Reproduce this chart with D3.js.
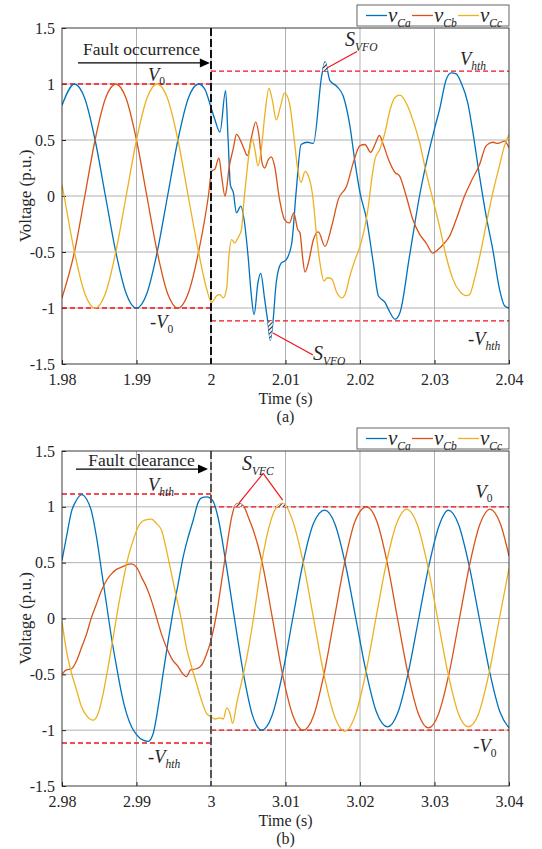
<!DOCTYPE html>
<html>
<head>
<meta charset="utf-8">
<script src="https://cdn.jsdelivr.net/npm/d3@7"></script>
<style>
body { margin: 0; background: #fff; }
text { font-family: "Liberation Serif", "Times New Roman", serif; fill: #262626; }
</style>
</head>
<body>
<svg id="chart" width="542" height="849"></svg>
<script>
// Values: [time (s), voltage (p.u.)]
const xTicksA = [1.98, 1.99, 2, 2.01, 2.02, 2.03, 2.04]
const xTicksB = [2.98, 2.99, 3, 3.01, 3.02, 3.03, 3.04]
const yTicks = [-1.5, -1, -0.5, 0, 0.5, 1, 1.5]
const phases = ['Ca', 'Cb', 'Cc']
const colors = ['#0072BD', '#D95319', '#EDB120']
const V0 = 1, Vhth = 1.115

// (a) fault occurrence
const vCaA = [[1.98,0.81],[1.98167,1],[1.98306,0.87],[1.98444,0.5],[1.98583,0],[1.98722,-0.5],[1.98861,-0.87],[1.99,-1],[1.99139,-0.87],[1.99278,-0.5],[1.99417,0],[1.99556,0.5],[1.99694,0.87],[1.99833,1],[1.9992,0.95],[2.0,0.79],[2.00053,0.68],[2.0012,0.57],[2.00196,0.94],[2.0023,0.5],[2.0026,0.1],[2.003,0.03],[2.00342,-0.15],[2.004,-0.09],[2.00444,-0.21],[2.00498,-0.54],[2.00542,-0.89],[2.00578,-1.06],[2.00631,-0.77],[2.00667,-0.69],[2.0072,-0.92],[2.00764,-1.13],[2.00796,-1.29],[2.00831,-1.13],[2.00876,-0.77],[2.00942,-0.6],[2.01009,-0.57],[2.01084,-0.42],[2.01142,0.03],[2.01209,0.46],[2.01298,0.48],[2.01374,0.47],[2.01485,1.07],[2.0153,1.2],[2.01597,1.03],[2.01687,0.98],[2.01776,0.89],[2.01866,0.62],[2.01933,0.3],[2.02,0.03],[2.02089,-0.21],[2.02179,-0.6],[2.02246,-0.89],[2.02336,-0.95],[2.02403,-1.04],[2.0247,-1.1],[2.02537,-1.04],[2.02664,-0.54],[2.02799,0],[2.02933,0.42],[2.03,0.6],[2.03067,0.77],[2.03157,1.04],[2.03224,1.1],[2.03291,1.09],[2.03358,1.01],[2.03447,0.83],[2.03515,0.57],[2.03604,0.18],[2.03694,-0.18],[2.03783,-0.48],[2.03872,-0.83],[2.0394,-0.98],[2.04,-1.0]]
const vCbA = [[1.98,-0.91],[1.98167,-0.5],[1.98306,0],[1.98444,0.5],[1.98583,0.87],[1.98722,1],[1.98861,0.87],[1.99,0.5],[1.99139,0],[1.99278,-0.5],[1.99417,-0.87],[1.99556,-1],[1.99694,-0.87],[1.99833,-0.5],[1.99965,0],[2.00009,0.22],[2.00053,0.24],[2.00107,0.34],[2.00142,0.18],[2.00187,0.0],[2.00209,0.06],[2.0024,0.24],[2.00298,0.42],[2.00342,0.55],[2.004,0.49],[2.00444,0.42],[2.00489,0.36],[2.00542,0.52],[2.006,0.66],[2.00644,0.54],[2.00684,0.3],[2.0072,0.25],[2.00773,0.33],[2.00809,0.35],[2.00853,0.27],[2.0092,-0.03],[2.00987,-0.21],[2.01053,-0.24],[2.01111,-0.15],[2.01164,-0.3],[2.01195,-0.33],[2.0123,-0.55],[2.01262,-0.68],[2.01306,-0.6],[2.01374,-0.39],[2.01441,-0.32],[2.0153,-0.45],[2.0162,-0.27],[2.01709,-0.03],[2.01821,0.09],[2.01911,0.3],[2.02,0.45],[2.02067,0.46],[2.02143,0.39],[2.02201,0.46],[2.0226,0.54],[2.02313,0.46],[2.0238,0.33],[2.0247,0.21],[2.0253,0.18],[2.0262,0.0],[2.02709,-0.21],[2.02799,-0.34],[2.02888,-0.42],[2.02978,-0.51],[2.03045,-0.48],[2.03134,-0.42],[2.03201,-0.36],[2.03291,-0.21],[2.03403,0],[2.03492,0.13],[2.03604,0.28],[2.03694,0.45],[2.03783,0.48],[2.0385,0.47],[2.0394,0.49],[2.04,0.43]]
const vCcA = [[1.98,0.1],[1.98028,0],[1.98167,-0.5],[1.98306,-0.87],[1.98444,-1],[1.98583,-0.87],[1.98722,-0.5],[1.98861,0],[1.99,0.5],[1.99139,0.87],[1.99278,1],[1.99417,0.87],[1.99556,0.5],[1.99694,0],[1.99833,-0.5],[1.99942,-0.83],[2.00009,-0.95],[2.00076,-0.89],[2.0012,-0.88],[2.00164,-0.91],[2.00209,-0.83],[2.0024,-0.54],[2.00276,-0.39],[2.0032,-0.42],[2.00364,-0.37],[2.00409,-0.3],[2.00444,-0.03],[2.00476,0.18],[2.0052,0.42],[2.00551,0.51],[2.00587,0.42],[2.00631,0.27],[2.00676,0.42],[2.0072,0.71],[2.00778,0.96],[2.00822,0.86],[2.00876,0.68],[2.00933,0.8],[2.00987,0.92],[2.01053,0.83],[2.01111,0.54],[2.01164,0.24],[2.01209,0.12],[2.01262,0.22],[2.01306,0.18],[2.01365,0.0],[2.01418,-0.36],[2.01463,-0.6],[2.01517,-0.76],[2.01561,-0.73],[2.0162,-0.74],[2.01687,-0.86],[2.01754,-0.91],[2.01799,-0.88],[2.01866,-0.71],[2.01933,-0.57],[2.02,-0.45],[2.02067,-0.27],[2.02112,-0.09],[2.02157,0.15],[2.02201,0.33],[2.02268,0.42],[2.02336,0.57],[2.02403,0.77],[2.0247,0.88],[2.02537,0.9],[2.0262,0.83],[2.02709,0.68],[2.02799,0.48],[2.02888,0.21],[2.02978,-0.03],[2.03067,-0.27],[2.03157,-0.54],[2.03246,-0.74],[2.03336,-0.85],[2.03425,-0.89],[2.0347,-0.88],[2.03537,-0.74],[2.03626,-0.48],[2.03716,-0.18],[2.03783,0.03],[2.03872,0.27],[2.0394,0.45],[2.04,0.55]]

// (b) fault clearance
const vCaB = [[2.98,0.52],[2.9806,0.73],[2.98128,0.96],[2.98186,1.05],[2.98262,1.11],[2.98329,1.07],[2.98396,0.96],[2.98463,0.73],[2.9853,0.43],[2.98597,0.13],[2.98664,-0.17],[2.98732,-0.43],[2.98799,-0.67],[2.98866,-0.85],[2.98933,-0.97],[2.99,-1.04],[2.99089,-1.09],[2.99157,-1.1],[2.99224,-1.03],[2.99291,-0.79],[2.99358,-0.49],[2.99425,-0.2],[2.99492,0.07],[2.99559,0.31],[2.99626,0.55],[2.99694,0.73],[2.99761,0.88],[2.99828,1.04],[2.99872,1.08],[2.9994,1.09],[2.99984,1.08],[3.00029,1.05],[3.00096,0.9],[3.0019,0.54],[3.00315,0],[3.00437,-0.5],[3.00558,-0.87],[3.0068,-1],[3.00819,-0.87],[3.00958,-0.5],[3.01097,0],[3.01236,0.5],[3.01375,0.85],[3.01528,0.97],[3.01667,0.84],[3.01806,0.48],[3.01944,0],[3.02083,-0.48],[3.02222,-0.84],[3.02371,-0.97],[3.0251,-0.84],[3.02649,-0.48],[3.02788,0],[3.02927,0.48],[3.03066,0.84],[3.03185,0.97],[3.03324,0.84],[3.03463,0.48],[3.03602,0],[3.03741,-0.48],[3.0388,-0.84],[3.04,-0.98]]
const vCbB = [[2.98,-0.5],[2.9806,-0.46],[2.98128,-0.45],[2.98195,-0.38],[2.98262,-0.26],[2.98329,-0.14],[2.98396,0.01],[2.98463,0.13],[2.9853,0.25],[2.98597,0.34],[2.98664,0.4],[2.98732,0.44],[2.98799,0.46],[2.98866,0.48],[2.98933,0.49],[2.99,0.46],[2.99067,0.37],[2.99134,0.28],[2.99201,0.16],[2.99268,0.01],[2.99336,-0.14],[2.99403,-0.26],[2.99492,-0.38],[2.99559,-0.43],[2.99604,-0.48],[2.99671,-0.52],[2.99725,-0.46],[2.99805,-0.45],[2.99872,-0.42],[2.9994,-0.32],[2.99998,-0.2],[3.00077,0.05],[3.00144,0.34],[3.00211,0.64],[3.00278,0.91],[3.00322,1.01],[3.00367,1.03],[3.00434,1.01],[3.005,0.91],[3.00568,0.79],[3.00635,0.64],[3.0068,0.52],[3.0082,0.02],[3.0096,-0.5],[3.011,-0.87],[3.01238,-1],[3.01377,-0.87],[3.01516,-0.5],[3.01655,0],[3.01794,0.5],[3.01933,0.87],[3.02087,1],[3.02226,0.87],[3.02365,0.5],[3.02504,0],[3.02643,-0.49],[3.02782,-0.85],[3.02918,-0.98],[3.03057,-0.85],[3.03196,-0.49],[3.03335,0],[3.03474,0.49],[3.03613,0.85],[3.03744,0.98],[3.03883,0.85],[3.04,0.56]]
const vCcB = [[2.98,-0.03],[2.9806,-0.29],[2.98128,-0.49],[2.98195,-0.64],[2.98262,-0.79],[2.98329,-0.87],[2.98418,-0.91],[2.98485,-0.85],[2.98553,-0.67],[2.9862,-0.43],[2.98687,-0.17],[2.98754,0.1],[2.98821,0.34],[2.98888,0.55],[2.98955,0.7],[2.99022,0.82],[2.99112,0.88],[2.99201,0.89],[2.99268,0.85],[2.99336,0.79],[2.99403,0.61],[2.9947,0.4],[2.99537,0.19],[2.99604,-0.02],[2.99671,-0.26],[2.99738,-0.43],[2.99805,-0.58],[2.99872,-0.73],[2.9994,-0.85],[3.0,-0.88],[3.00054,-0.9],[3.00121,-0.89],[3.00165,-0.9],[3.00211,-0.8],[3.00255,-0.85],[3.00291,-0.94],[3.00345,-0.76],[3.00434,-0.5],[3.005,-0.28],[3.0057,0],[3.0068,0.5],[3.008,0.87],[3.0091,1.02],[3.0097,1.03],[3.01099,0.87],[3.01238,0.5],[3.01377,0],[3.01516,-0.5],[3.01655,-0.87],[3.01796,-1.01],[3.01935,-0.87],[3.02074,-0.5],[3.02213,0],[3.02352,0.49],[3.02491,0.85],[3.02625,0.98],[3.02764,0.85],[3.02903,0.49],[3.03042,0],[3.03181,-0.49],[3.0332,-0.85],[3.03454,-0.97],[3.03593,-0.85],[3.03732,-0.49],[3.03871,0],[3.04,0.45]]

// label parts: [text, style] where style: i = italic, s = subscript
const lblV0 = [['V','i'],['0','s']], lblVh = [['V','i'],['hth','is']]
const neg = p => [['-','']].concat(p)

const panels = [
  {top: 28, bottom: 364, domain: [1.98, 2.04], ticks: xTicksA, series: [vCaA, vCbA, vCcA], caption: '(a)',
   tEvent: 2, eventColor: '#111', eventText: 'Fault occurrence', eventPos: [1.99067, 1.259], arrow: [1.98215, 1.99985, 1.188],
   limits: [[1.98, 2, V0], [1.98, 2, -V0], [2, 2.04, Vhth], [2, 2.04, -Vhth]],
   labels: [{t: 1.99154, v: 1.03, parts: lblV0}, {t: 1.99181, v: -1.18, parts: neg(lblV0)},
            {t: 2.03342, v: 1.17, parts: lblVh}, {t: 2.0345, v: -1.33, parts: neg(lblVh)},
            {t: 2.018, v: 1.34, parts: [['S','i'],['VFO','is']], big: true},
            {t: 2.01369, v: -1.46, parts: [['S','i'],['VFO','is']], big: true}],
   hatches: [{s: 0, t: [2.0145, 2.0162], th: Vhth, up: true}, {s: 0, t: [2.0074, 2.0086], th: -Vhth, up: false}],
   leaders: [[[2.0196, 1.29], [2.01557, 1.143]], [[2.00832, -1.223], [2.01369, -1.42]]]},
  {top: 451, bottom: 786, domain: [2.98, 3.04], ticks: xTicksB, series: [vCaB, vCbB, vCcB], caption: '(b)',
   tEvent: 3, eventColor: '#555', eventText: 'Fault clearance', eventPos: [2.99067, 1.365], arrow: [2.98188, 2.9996, 1.338],
   limits: [[2.98, 3, Vhth], [2.98, 3, -Vhth], [3, 3.04, V0], [3, 3.04, -V0]],
   labels: [{t: 2.99154, v: 1.14, parts: lblVh}, {t: 2.99154, v: -1.295, parts: neg(lblVh)},
            {t: 3.0355, v: 1.083, parts: lblV0}, {t: 3.0352, v: -1.195, parts: neg(lblV0)},
            {t: 3.00416, v: 1.33, parts: [['S','i'],['VFC','is']], big: true}],
   hatches: [{s: 1, t: [3.0025, 3.005], th: V0, up: true}, {s: 2, t: [3.0085, 3.011], th: V0, up: true}],
   leaders: [[[3.0070, 1.30], [3.00376, 1.034]], [[3.0070, 1.30], [3.00962, 1.061]]]}
]

const svg = d3.select('#chart')
const L = 62, R = 509
const serif = '"Liberation Serif", "Times New Roman", serif'
const defs = svg.append('defs')
const pat = defs.append('pattern').attr('id', 'hatch').attr('patternUnits', 'userSpaceOnUse')
  .attr('width', 3).attr('height', 3).attr('patternTransform', 'rotate(45)')
pat.append('rect').attr('width', 3).attr('height', 3).attr('fill', '#fff')
pat.append('line').attr('x1', 0.5).attr('y1', 0).attr('x2', 0.5).attr('y2', 3).attr('stroke', '#333').attr('stroke-width', 1.1)

function mathText(g, x, y, parts, size, subSize) {
  const t = g.append('text').attr('x', x).attr('y', y).attr('font-size', size)
  let down = false
  parts.forEach(([txt, st]) => {
    const s = t.append('tspan').text(txt)
    if (st.includes('i')) s.attr('font-style', 'italic')
    if (st.includes('s')) {
      s.attr('font-size', subSize)
      if (!down) { s.attr('dy', size * 0.25); down = true }
    } else if (down) { s.attr('dy', -size * 0.25); down = false }
  })
  return t
}

panels.forEach((p, pi) => {
  const x = d3.scaleLinear().domain(p.domain).range([L, R])
  const y = d3.scaleLinear().domain([-1.5, 1.5]).range([p.bottom, p.top])
  const g = svg.append('g')
  const clipId = 'clip' + pi
  defs.append('clipPath').attr('id', clipId).append('rect')
    .attr('x', L).attr('y', p.top).attr('width', R - L).attr('height', p.bottom - p.top)

  // grid
  g.append('g').selectAll('line').data(p.ticks.slice(1, -1)).join('line')
    .attr('x1', d => x(d)).attr('x2', d => x(d)).attr('y1', p.top).attr('y2', p.bottom)
    .attr('stroke', '#a8a8a8').attr('stroke-width', 0.9)
  g.append('g').selectAll('line').data(yTicks.slice(1, -1)).join('line')
    .attr('x1', L).attr('x2', R).attr('y1', d => y(d)).attr('y2', d => y(d))
    .attr('stroke', '#a8a8a8').attr('stroke-width', 0.9)

  // axes
  const ax = g.append('g').attr('transform', `translate(0,${p.bottom})`)
    .call(d3.axisBottom(x).tickValues(p.ticks).tickFormat(d => String(d)).tickSize(-4).tickPadding(10))
  const ay = g.append('g').attr('transform', `translate(${L},0)`)
    .call(d3.axisLeft(y).tickValues(yTicks).tickFormat(d => String(d)).tickSize(-4).tickPadding(7))
  ;[ax, ay].forEach(a => {
    a.attr('font-family', null).attr('font-size', null)
    a.select('.domain').remove()
    a.selectAll('line').attr('stroke', '#262626')
    a.selectAll('text').style('font-family', serif).style('font-size', '16px').attr('fill', '#262626')
  })

  // threshold lines
  g.append('g').selectAll('line').data(p.limits).join('line')
    .attr('x1', d => x(d[0])).attr('x2', d => x(d[1])).attr('y1', d => y(d[2])).attr('y2', d => y(d[2]))
    .attr('stroke', '#f0141e').attr('stroke-width', 1.3).attr('stroke-dasharray', '5,3')

  // voltage traces
  const line = d3.line().curve(d3.curveMonotoneX).x(d => x(d[0])).y(d => y(d[1]))
  g.append('g').attr('clip-path', `url(#${clipId})`).selectAll('path').data(p.series).join('path')
    .attr('d', line).attr('fill', 'none').attr('stroke', (d, i) => colors[i]).attr('stroke-width', 1.3)

  // hatched excursion areas
  p.hatches.forEach((h, hi) => {
    const id = `hclip${pi}_${hi}`
    const yt = y(h.th)
    defs.append('clipPath').attr('id', id).append('rect')
      .attr('x', x(h.t[0])).attr('width', x(h.t[1]) - x(h.t[0]))
      .attr('y', h.up ? p.top : yt).attr('height', h.up ? yt - p.top : p.bottom - yt)
    const pts = p.series[h.s].filter(d => d[0] > h.t[0] - 0.0012 && d[0] < h.t[1] + 0.0012)
    const area = d3.area().curve(d3.curveMonotoneX).x(d => x(d[0])).y0(yt).y1(d => y(d[1]))
    g.append('path').attr('d', area(pts)).attr('fill', 'url(#hatch)').attr('clip-path', `url(#${id})`)
      .attr('stroke', 'none')
  })

  // event marker
  g.append('line').attr('x1', x(p.tEvent)).attr('x2', x(p.tEvent)).attr('y1', p.top).attr('y2', p.bottom)
    .attr('stroke', p.eventColor).attr('stroke-width', 2).attr('stroke-dasharray', '8,3')

  // box
  g.append('rect').attr('x', L).attr('y', p.top).attr('width', R - L).attr('height', p.bottom - p.top)
    .attr('fill', 'none').attr('stroke', '#262626').attr('stroke-width', 0.9)

  // event annotation + arrow
  g.append('text').attr('x', x(p.eventPos[0])).attr('y', y(p.eventPos[1])).attr('text-anchor', 'middle')
    .attr('font-size', 17.5).text(p.eventText).attr('fill', '#111')
  const [a0, a1, av] = p.arrow
  g.append('line').attr('x1', x(a0)).attr('x2', x(a1) - 9).attr('y1', y(av)).attr('y2', y(av))
    .attr('stroke', '#000').attr('stroke-width', 1.3)
  g.append('path').attr('d', `M${x(a1)},${y(av)} l-10,-4.5 l0,9 Z`).attr('fill', '#000')

  // leader lines
  g.append('g').selectAll('line').data(p.leaders).join('line')
    .attr('x1', d => x(d[0][0])).attr('y1', d => y(d[0][1])).attr('x2', d => x(d[1][0])).attr('y2', d => y(d[1][1]))
    .attr('stroke', '#f0141e').attr('stroke-width', 1.2)

  // math labels
  p.labels.forEach(l => {
    mathText(g, x(l.t), y(l.v), l.parts, l.big ? 20 : 18.5, 11.5).attr('fill', '#222')
  })

  // axis titles
  g.append('text').attr('x', (L + R) / 2).attr('y', p.bottom + 40).attr('text-anchor', 'middle')
    .attr('font-size', 16).text('Time (s)')
  g.append('text').attr('x', (L + R) / 2).attr('y', p.bottom + 58).attr('text-anchor', 'middle')
    .attr('font-size', 16).text(p.caption)
  g.append('text').attr('transform', `translate(31,${(p.top + p.bottom) / 2}) rotate(-90)`)
    .attr('text-anchor', 'middle').attr('font-size', 17).text('Voltage (p.u.)')

  // legend
  const lg = g.append('g').attr('transform', `translate(357,${p.top - 23})`)
  lg.append('rect').attr('width', 152).attr('height', 21).attr('fill', '#fff').attr('stroke', '#555').attr('stroke-width', 0.9)
  phases.forEach((ph, i) => {
    const ox = 9 + i * 46
    lg.append('line').attr('x1', ox).attr('x2', ox + 21).attr('y1', 10.5).attr('y2', 10.5)
      .attr('stroke', colors[i]).attr('stroke-width', 1.3)
    mathText(lg, ox + 22, 17, [['v','i'], [ph, 'is']], 21, 11.5).attr('fill', '#222')
  })
})
</script>
</body>
</html>
